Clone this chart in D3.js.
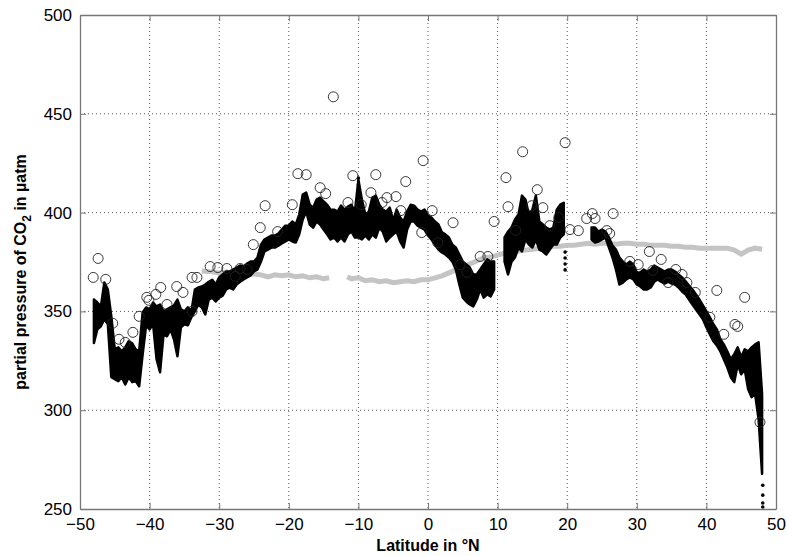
<!DOCTYPE html>
<html>
<head>
<meta charset="utf-8">
<script src="https://cdn.jsdelivr.net/npm/d3@7"></script>
<style>
  body { margin: 0; background: #fff; }
  text { font-family: "Liberation Sans", Arial, sans-serif; }
</style>
</head>
<body>
<div id="vis"></div>
<script>
// measured pCO2 envelope (black trace): latitude, upper and lower edge
var bLat = [-48,-47.5,-47,-46.5,-46,-45.5,-45,-44.5,-44,-43.5,-43,-42.5,-42,-41.5,-41,-40.5,-40,-39.5,-39,-38.5,-38,-37.5,-37,-36.5,-36,-35.5,-35,-34.5,-34,-33.5,-33,-32.5,-32,-31.5,-31,-30.5,-30,-29.5,-29,-28.5,-28,-27.5,-27,-26.5,-26,-25.5,-25,-24.5,-24,-23.5,-23,-22.5,-22,-21.5,-21,-20.5,-20,-19.5,-19,-18.5,-18,-17.5,-17,-16.5,-16,-15.5,-15,-14.5,-14,-13.5,-13,-12.5,-12,-11.5,-11,-10.5,-10,-9.5,-9,-8.5,-8,-7.5,-7,-6.5,-6,-5.5,-5,-4.5,-4,-3.5,-3,-2.5,-2,-1.5,-1,-0.5,0,0.5,1,1.5,2,2.5,3,3.5,4,4.5,5,5.5,6,6.5,7,7.5,8,8.5,9,9.5,10,10.5,11,11.5,12,12.5,13,13.5,14,14.5,15,15.5,16,16.5,17,17.5,18,18.5,19,19.5,20,23,23.5,24,24.5,25,25.5,26,26.5,27,27.5,28,28.5,29,29.5,30,30.5,31,31.5,32,32.5,33,33.5,34,34.5,35,35.5,36,36.5,37,37.5,38,38.5,39,39.5,40,40.5,41,41.5,42,42.5,43,43.5,44,44.5,45,45.5,46,46.5,47,47.5,48];
var bHi = [356,354.5,352.5,364.6,361,347.5,330.8,331.8,329.8,331.8,334.9,333.8,330.8,329.8,349.5,352,351,354.5,352.5,353.5,350,351,352,353,356,351,350,352,350,361,362.1,362.6,363.6,365,366,363.6,367.2,368.7,370.2,370.2,371.2,372.2,373.2,372.7,374.2,375.2,375.2,377.3,383.8,386.4,387.4,388.4,388.4,389.4,391.4,393.4,393.4,395.5,394,399,409.1,410.1,404,402.5,406.6,407.6,405.6,404,401.5,401.5,400.5,403.5,401.5,403,404,400.5,416.7,406.6,399,400.5,407.6,408.6,404,401.5,400.5,402.5,396,401.5,397.5,395.5,400.5,404,403.5,401.5,400.5,401.5,398.5,397.5,395.5,394,390,389,387.4,383.8,382.3,378.8,375.2,373.7,372.2,368.7,368.7,371.2,373.7,376.3,375.2,375.2,null,null,387.4,390.4,392.4,396.5,399,408.6,406.6,399,401.5,408.6,395.5,394,392.4,391.4,392.4,401.5,404,405,null,null,392.4,392.4,390.4,391.4,390.4,387.4,383.3,381.3,377.3,375.2,373.7,375.2,373.7,369.7,369.7,371.2,370.2,371.2,373.2,372.2,371.2,370.2,371.2,371.2,370.2,368.7,367.2,365.2,363.1,361.1,358.6,356,353,350,347,343.5,340.9,335.9,333.3,329.8,325.8,328.3,331.8,326.8,330.8,329.8,331.8,333.3,334.3,308.1];
var bLo = [334,341,342.5,346,343.5,316.7,315.7,314.7,316.7,313,316.7,314.2,314.7,312.1,328.3,343,340.9,343.5,325.8,319.2,338.4,337.4,340.9,335.9,327.3,342,343.5,343,347,350,353.5,352,348.5,356,357,355,357,358,361.1,362,361.1,363.6,365,366.2,367.2,368.2,370.2,371.2,375.2,380.3,381.3,382.3,382.3,383.3,384.4,385.4,386.4,385.4,384.9,389,396.5,400.5,394,392.4,395.5,394,391.4,389,386.4,387.4,385.4,387.4,385.4,389,390.4,387.4,387.4,386.4,388.4,386.4,389,387.4,392.4,390.4,385.4,387.4,389,390.4,385.4,382.3,391.4,395.5,395.5,393.4,392.4,391.4,388.4,386.4,383.8,381.3,379.8,378.8,377.3,375.2,371.2,363.6,357,355,353.5,352.5,356,361.1,357,358.6,357.6,361.1,null,null,375.2,368.7,375.2,377.3,382.3,380.3,386.4,383.8,382.3,386.4,381.3,380.3,378.8,381.3,383.8,383.8,387.4,389,null,null,386.4,384.9,385.4,386.4,387.4,382.3,377.3,371.2,363.6,364.6,366.2,367.2,366.2,363.6,362.6,361.1,361.1,362.1,365,366.2,365,364.1,365,364.1,363.6,362.1,360.1,358.6,356,353.5,351,348.5,346,342,338.4,334.9,332.8,329.8,325.8,321.7,316.7,314.2,323.2,318.2,320.7,310.6,306.6,308.1,295.5,267.8];

// isolated black samples
var sLat = [-10,-10,19.7,19.7,19.7,19.7,48.1,48.1,48.1,48.1];
var sP = [417.5,414,380,377,374,371,262,257,253,251];

// gray reference line
var gLat = [-32.5,-31,-30,-29,-28,-27,-26,-25,-24,-23,-22,-21,-20,-19,-18,-17,-16,-15,-14.2,-13,-11.6,-11,-10,-9,-8,-7,-6,-5,-4,-3,-2,-1,0,1,2,3,4,5,6,7,8,9,10,11,12,13,14,15,16,17,18,19,20,21,22,23,24,25,26,27,28,29,30,31,32,33,34,35,36,37,38,39,40,41,42,43,44,45,46,47,48];
var gP = [370.5,370,369.5,370,369,369.5,368.5,369,368.5,367.5,368.5,368,368.5,367.5,368,367,367.5,366.5,367,null,367.5,366.5,367,365.5,366,365,365.5,364.5,365,365.5,365,366,366,367,368,369.5,371,372.5,374,375.5,377,377.5,378.5,379.5,380,380.5,381,381.5,382,382.5,383,383,383.5,383.5,384,384.5,384,384.5,384.5,384,384.5,384.5,384,384,383.5,383.5,383.5,383,383,382.5,382.5,382,382,382,382,382,381,379,381,382,381.5];

// open circles
var cLat = [-48.1,-47.4,-46.3,-45.3,-44.4,-43.5,-42.4,-41.5,-40.4,-40.1,-39.1,-38.4,-37.5,-36.1,-35.2,-33.9,-33.9,-33.2,-31.3,-30.2,-28.9,-27.7,-27,-26,-25.1,-24.1,-23.4,-21.6,-19.5,-18.7,-17.5,-15.5,-14.7,-13.6,-11.5,-10.8,-9.6,-8.2,-7.5,-6.6,-5.9,-4.6,-3.9,-3.2,-0.7,-0.9,0.6,1.4,3.6,4.6,5.6,7.5,8.6,9.5,11.2,11.5,12.6,13.6,14.9,15.7,16.5,17.5,18.8,19.7,20.4,21.6,22.8,23.6,24,25.7,26.1,26.6,29,30.2,31.8,32.3,33.5,34.5,35.6,36.5,37.2,38.4,40.5,41.5,42.5,44.1,44.5,45.5,47.7];
var cP = [367.2,376.8,366.2,344,335.9,334.3,339.4,347.5,357.1,355.6,358.6,362.1,353.5,362.6,359.6,350,367.2,367.2,372.7,372.2,371.7,367.7,371.7,371.2,383.8,392.4,403.5,390.4,404,419.7,419.2,412.6,409.6,458.6,405.1,418.7,404,410.1,419.2,405.1,407.6,408.1,401,415.7,426.3,389.9,401,384.8,394.9,373.7,369.7,377.8,377.8,395.5,417.7,403,391,430.8,403.5,411.6,402.5,393.4,397.5,435.4,391.4,390.9,397,399.5,397,390.9,389.4,399.5,375.3,373.7,380.3,370.7,376.3,364.6,371.2,368.7,364.6,359.6,347,360.6,338.4,343.4,342.4,357.1,293.9];

var xTicks = [-50,-40,-30,-20,-10,0,10,20,30,40,50];
var yTicks = [250,300,350,400,450,500];

var margin = {top: 15, right: 11, bottom: 47, left: 80};
var width = 787 - margin.left - margin.right,
    height = 556 - margin.top - margin.bottom;

var svg = d3.select("div#vis").append("svg")
    .attr("width", 787)
    .attr("height", 556);

var g = svg.append("g")
    .attr("transform", "translate(" + margin.left + "," + margin.top + ")");

var x = d3.scaleLinear().domain([-50, 50]).range([0, width]);
var y = d3.scaleLinear().domain([250, 500]).range([height, 0]);

// dotted grid
g.append("g").selectAll("line")
  .data(xTicks.slice(1, -1))
  .enter().append("line")
  .attr("x1", x).attr("x2", x)
  .attr("y1", 0).attr("y2", height)
  .attr("stroke", "#555").attr("stroke-dasharray", "1,3");

g.append("g").selectAll("line")
  .data(yTicks.slice(1, -1))
  .enter().append("line")
  .attr("y1", y).attr("y2", y)
  .attr("x1", 0).attr("x2", width)
  .attr("stroke", "#555").attr("stroke-dasharray", "1,3");

// gray line
var gData = gLat.map(function(d, i) { return {lat: d, p: gP[i]}; });
g.append("path")
  .datum(gData)
  .attr("fill", "none")
  .attr("stroke", "#c4c4c4")
  .attr("stroke-width", 5)
  .attr("d", d3.line()
    .defined(function(d) { return d.p != null; })
    .x(function(d) { return x(d.lat); })
    .y(function(d) { return y(d.p); }));

// black trace
var bData = bLat.map(function(d, i) { return {lat: d, hi: bHi[i], lo: bLo[i]}; });
g.append("path")
  .datum(bData)
  .attr("fill", "#000")
  .attr("stroke", "#000")
  .attr("stroke-width", 2.5)
  .attr("stroke-linejoin", "round")
  .attr("d", d3.area()
    .defined(function(d) { return d.hi != null; })
    .x(function(d) { return x(d.lat); })
    .y0(function(d) { return y(d.lo); })
    .y1(function(d) { return y(d.hi); }));

g.append("g").selectAll("circle")
  .data(sLat)
  .enter().append("circle")
  .attr("cx", function(d) { return x(d); })
  .attr("cy", function(d, i) { return y(sP[i]); })
  .attr("r", 1.8)
  .attr("fill", "#000");

// open circles
g.append("g").selectAll("circle")
  .data(cLat)
  .enter().append("circle")
  .attr("cx", function(d) { return x(d); })
  .attr("cy", function(d, i) { return y(cP[i]); })
  .attr("r", 5)
  .attr("fill", "none")
  .attr("stroke", "#222")
  .attr("stroke-width", 0.9);

// axes, matlab style box with inward ticks
var axisColor = "#777";
function styleAxis(sel) {
  sel.select(".domain").attr("stroke", axisColor).attr("stroke-width", 1.3);
  sel.selectAll(".tick line").attr("stroke", axisColor);
  sel.selectAll(".tick text").attr("fill", "#000").style("font-size", "17px")
    .style("font-family", "Liberation Sans, Arial, sans-serif");
}

g.append("g")
  .attr("transform", "translate(0," + height + ")")
  .call(d3.axisBottom(x).tickValues(xTicks).tickSizeInner(-6).tickSizeOuter(0).tickPadding(9))
  .call(styleAxis);

g.append("g")
  .call(d3.axisLeft(y).tickValues(yTicks).tickSizeInner(-6).tickSizeOuter(0).tickPadding(8))
  .call(styleAxis);

g.append("g")
  .call(d3.axisTop(x).tickValues(xTicks).tickSizeInner(-6).tickSizeOuter(0).tickFormat(""))
  .call(styleAxis);

g.append("g")
  .attr("transform", "translate(" + width + ",0)")
  .call(d3.axisRight(y).tickValues(yTicks).tickSizeInner(-6).tickSizeOuter(0).tickFormat(""))
  .call(styleAxis);

// axis titles
svg.append("text")
  .attr("x", margin.left + width / 2)
  .attr("y", 551)
  .attr("text-anchor", "middle")
  .attr("font-weight", "bold")
  .attr("font-size", 16)
  .text("Latitude in °N");

var yt = svg.append("text")
  .attr("transform", "translate(26," + (margin.top + height / 2 + 10) + ") rotate(-90)")
  .attr("text-anchor", "middle")
  .attr("font-weight", "bold")
  .attr("font-size", 16);
yt.append("tspan").text("partial pressure of CO");
yt.append("tspan").attr("dy", 5).attr("font-size", 12).text("2");
yt.append("tspan").attr("dy", -5).text(" in µatm");
</script>
</body>
</html>
